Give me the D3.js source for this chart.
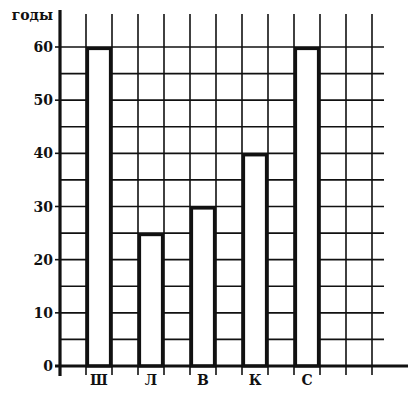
<!DOCTYPE html>
<html lang="ru">
<head>
  <meta charset="UTF-8">
  <title>Годы</title>
  <script src="https://d3js.org/d3.v7.min.js"></script>
  <style>
    body { margin:0; background:#fff; overflow:hidden; }
    svg { display:block; }
    text { font-family: "DejaVu Serif", "Liberation Serif", serif; font-weight: bold; fill:#111; }
  </style>
</head>
<body>
  <script>
    // data
    const categories = ["Ш", "Л", "В", "К", "С"];
    const values = [60, 25, 30, 40, 60];
    const yTicks = [0, 10, 20, 30, 40, 50, 60];
    const yLabel = "годы";

    const width = 414, height = 395;
    const nCols = 12;       // grid columns
    const step = 5;         // grid step in years

    const svg = d3.select("body").append("svg")
      .attr("width", width)
      .attr("height", height);

    // scales
    const x = d3.scaleLinear().domain([0, nCols]).range([60, 372]);
    const y = d3.scaleLinear().domain([0, 60]).range([366, 47]);
    const colW = x(1) - x(0);

    // bars sit in every other column, starting with column 1
    const barCol = (d, i) => 1 + 2 * i;

    const ink = "#111";

    // horizontal grid
    svg.append("g").selectAll("line")
      .data(d3.range(step, 61, step))
      .join("line")
        .attr("x1", x(0)).attr("x2", 384)
        .attr("y1", d => y(d)).attr("y2", d => y(d))
        .attr("stroke", ink).attr("stroke-width", 1.6);

    // vertical grid
    svg.append("g").selectAll("line")
      .data(d3.range(1, nCols + 1))
      .join("line")
        .attr("x1", d => x(d)).attr("x2", d => x(d))
        .attr("y1", 14).attr("y2", y(0))
        .attr("stroke", ink).attr("stroke-width", 1.6);

    // bars: white inside, thick outline
    svg.append("g").selectAll("rect")
      .data(values)
      .join("rect")
        .attr("x", (d, i) => x(barCol(d, i)) + 1.5)
        .attr("width", colW - 3)
        .attr("y", d => y(d) + 1.5)
        .attr("height", d => y(0) - y(d) - 1.5)
        .attr("fill", "#fff")
        .attr("stroke", ink)
        .attr("stroke-width", 3.2);

    // x axis with tick marks under grid lines
    svg.append("line")
      .attr("x1", 55).attr("x2", 408)
      .attr("y1", y(0)).attr("y2", y(0))
      .attr("stroke", ink).attr("stroke-width", 3.2);
    svg.append("g").selectAll("line")
      .data(d3.range(1, nCols + 1))
      .join("line")
        .attr("x1", d => x(d)).attr("x2", d => x(d))
        .attr("y1", y(0)).attr("y2", 375)
        .attr("stroke", ink).attr("stroke-width", 1.6);

    // y axis
    svg.append("line")
      .attr("x1", x(0)).attr("x2", x(0))
      .attr("y1", 10).attr("y2", 376)
      .attr("stroke", ink).attr("stroke-width", 3.2);
    svg.append("g").selectAll("line")
      .data(yTicks)
      .join("line")
        .attr("x1", x(0) - 5).attr("x2", x(0))
        .attr("y1", d => y(d)).attr("y2", d => y(d))
        .attr("stroke", ink).attr("stroke-width", 1.6);

    // y tick labels
    svg.append("g").selectAll("text")
      .data(yTicks)
      .join("text")
        .attr("x", 53)
        .attr("y", d => y(d) + 5)
        .attr("text-anchor", "end")
        .style("font-size", "14px")
        .text(d => d);

    svg.append("text")
      .attr("x", 53).attr("y", 20)
      .attr("text-anchor", "end")
      .style("font-size", "14px")
      .text(yLabel);

    // category labels
    svg.append("g").selectAll("text")
      .data(categories)
      .join("text")
        .attr("x", (d, i) => x(barCol(d, i)) + colW / 2)
        .attr("y", 385)
        .attr("text-anchor", "middle")
        .style("font-size", "14px")
        .text(d => d);
  </script>
</body>
</html>
